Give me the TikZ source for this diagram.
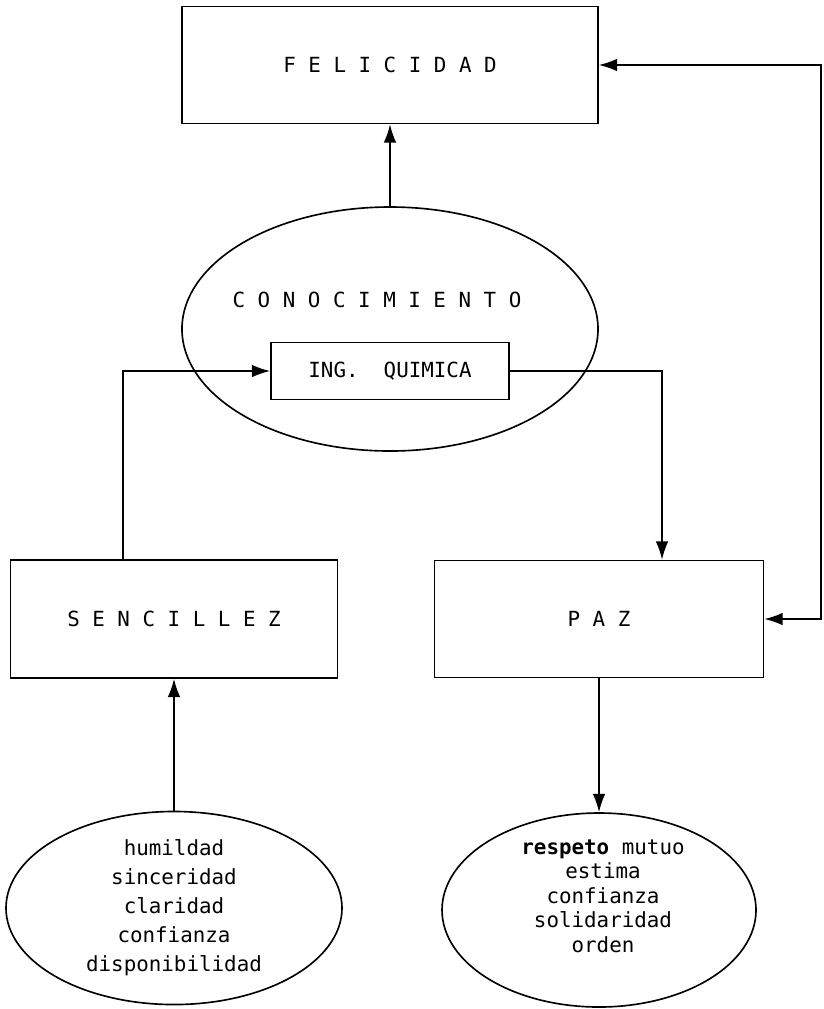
\documentclass[tikz,border=0pt]{standalone}
\usepackage{fontspec}
\setmonofont{DejaVu Sans Mono}
\usetikzlibrary{shapes, arrows.meta}

\begin{document}
\begin{tikzpicture}[x=0.03cm, y=-0.03cm, font=\ttfamily\fontsize{17.8}{24}\selectfont]

\tikzstyle{box} = [rectangle, text centered, draw=black, line width=1.4pt, inner sep=0pt]
\tikzstyle{blob} = [ellipse, align=center, draw=black, line width=1.4pt, inner sep=0pt]
\tikzstyle{arrow} = [line width=1.4pt, -{Latex[length=5.5mm, width=3.8mm]}]
\tikzstyle{twoway} = [line width=1.4pt, {Latex[length=5.5mm, width=3.8mm]}-{Latex[length=5.5mm, width=3.8mm]}]

\useasboundingbox (0,0) rectangle (824,1009);

\node (feli) [box, minimum width=12.48cm, minimum height=3.51cm] at (390,65) {F E L I C I D A D};
\node (cono) [blob, minimum width=12.48cm, minimum height=7.32cm, below of=feli, node distance=7.92cm] {};
\node (conotxt) at (377,300) {C O N O C I M I E N T O};
\node (ing) [box, minimum width=7.14cm, minimum height=1.71cm, below of=cono, node distance=1.26cm] {ING.\ \ QUIMICA};
\node (senc) [box, minimum width=9.81cm, minimum height=3.54cm] at (174,619) {S E N C I L L E Z};
\node (paz) [box, minimum width=9.87cm, minimum height=3.51cm, right of=senc, node distance=12.75cm] {P A Z};
\node (virt) [blob, minimum width=10.08cm, minimum height=5.58cm, below of=senc, node distance=8.67cm,
  font=\ttfamily\fontsize{17.8}{24.8}\selectfont] {humildad\\sinceridad\\claridad\\confianza\\disponibilidad};
\node (valp) [blob, minimum width=9.42cm, minimum height=5.82cm, below of=paz, node distance=8.73cm] {};
\node (valptxt) [align=center, font=\ttfamily\fontsize{17.8}{20.9}\selectfont] at (603,896)
  {\textbf{respeto} mutuo\\estima\\confianza\\solidaridad\\orden};
\coordinate (rt) at (821,619);

\draw [arrow] (cono.north) -- (feli.south);
\draw [arrow] ([xshift=-1.53cm]senc.north) |- (ing.west);
\draw [arrow] (ing.east) -| ([xshift=1.89cm]paz.north);
\draw [twoway] (paz.east) -- (rt) |- (feli.east);
\draw [arrow] (virt.north) -- (senc.south);
\draw [arrow] (paz.south) -- (valp.north);
\end{tikzpicture}
\end{document}
